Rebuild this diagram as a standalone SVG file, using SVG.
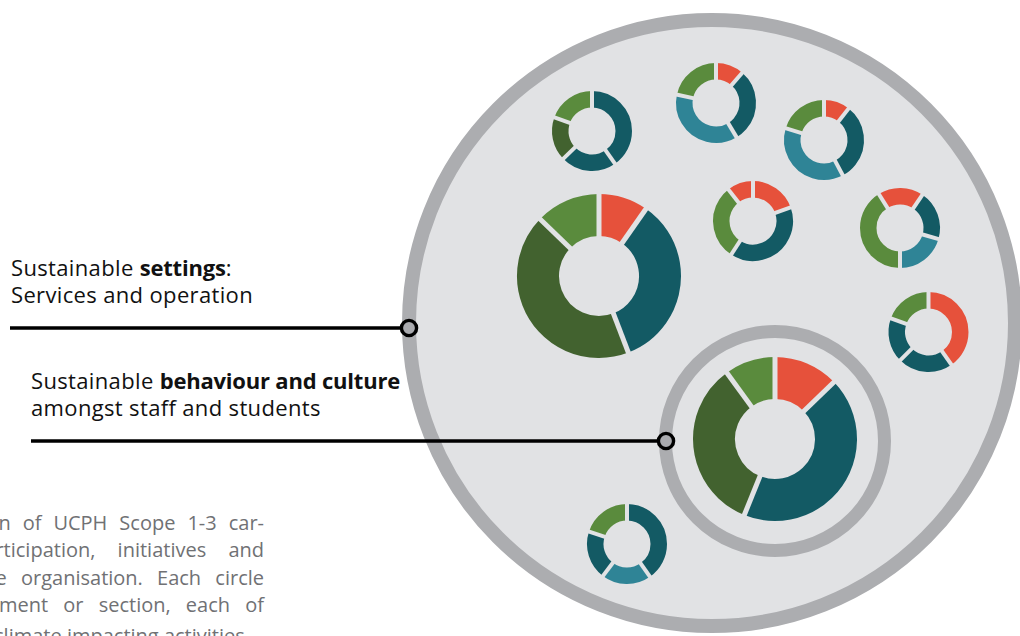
<svg xmlns="http://www.w3.org/2000/svg" width="1020" height="636" viewBox="0 0 1020 636">
<style>
.seg{fill:none}
.sm{stroke-width:16.5}
.bg{stroke-width:42}
.red{stroke:#e6513b}
.dt{stroke:#135a64}
.lt{stroke:#2f8496}
.g1{stroke:#5a8b3d}
.g2{stroke:#42622f}
.gap{stroke:#e1e2e4;stroke-width:4}
.gapb{stroke:#e1e2e4;stroke-width:5}
.lbl{font-family:"Open Sans","Noto Sans","Liberation Sans",sans-serif;font-size:22px;fill:#111;letter-spacing:0.35px}
.lbl .b{font-weight:bold;letter-spacing:-0.2px}
.para{font-family:"Open Sans","Noto Sans","Liberation Sans",sans-serif;font-size:20px;fill:#707174;text-anchor:end}
.conn{stroke:#000;stroke-width:3.6;fill:none}
.dot{fill:#a9aaae;stroke:#000;stroke-width:3.4}
</style>
<rect width="1020" height="636" fill="#ffffff"/>

<g id="outer-circle">
<circle cx="712" cy="323" r="303" fill="#e1e2e4" stroke="#acadb0" stroke-width="14"/>
</g>

<g id="inner-circle">
<circle cx="775" cy="441" r="109.5" fill="#e1e2e4" stroke="#acadb0" stroke-width="13"/>
</g>

<g id="donut-a" transform="translate(592,131)">
<circle class="seg sm dt" r="31.75" pathLength="360" stroke-dasharray="145 360" transform="rotate(-90)"/>
<circle class="seg sm dt" r="31.75" pathLength="360" stroke-dasharray="81 360" transform="rotate(55)"/>
<circle class="seg sm g2" r="31.75" pathLength="360" stroke-dasharray="64 360" transform="rotate(136)"/>
<circle class="seg sm g1" r="31.75" pathLength="360" stroke-dasharray="70 360" transform="rotate(200)"/>
<line class="gap" x1="0" y1="-20" x2="0" y2="-43"/>
<line class="gap" x1="0" y1="-20" x2="0" y2="-43" transform="rotate(145)"/>
<line class="gap" x1="0" y1="-20" x2="0" y2="-43" transform="rotate(226)"/>
<line class="gap" x1="0" y1="-20" x2="0" y2="-43" transform="rotate(290)"/>
</g>

<g id="donut-b" transform="translate(716,103)">
<circle class="seg sm red" r="31.75" pathLength="360" stroke-dasharray="41 360" transform="rotate(-90)"/>
<circle class="seg sm dt" r="31.75" pathLength="360" stroke-dasharray="108 360" transform="rotate(-49)"/>
<circle class="seg sm lt" r="31.75" pathLength="360" stroke-dasharray="133 360" transform="rotate(59)"/>
<circle class="seg sm g1" r="31.75" pathLength="360" stroke-dasharray="78 360" transform="rotate(192)"/>
<line class="gap" x1="0" y1="-20" x2="0" y2="-43"/>
<line class="gap" x1="0" y1="-20" x2="0" y2="-43" transform="rotate(41)"/>
<line class="gap" x1="0" y1="-20" x2="0" y2="-43" transform="rotate(149)"/>
<line class="gap" x1="0" y1="-20" x2="0" y2="-43" transform="rotate(282)"/>
</g>

<g id="donut-c" transform="translate(824,140)">
<circle class="seg sm red" r="31.75" pathLength="360" stroke-dasharray="38 360" transform="rotate(-90)"/>
<circle class="seg sm dt" r="31.75" pathLength="360" stroke-dasharray="114 360" transform="rotate(-52)"/>
<circle class="seg sm lt" r="31.75" pathLength="360" stroke-dasharray="135 360" transform="rotate(62)"/>
<circle class="seg sm g1" r="31.75" pathLength="360" stroke-dasharray="73 360" transform="rotate(197)"/>
<line class="gap" x1="0" y1="-20" x2="0" y2="-43"/>
<line class="gap" x1="0" y1="-20" x2="0" y2="-43" transform="rotate(38)"/>
<line class="gap" x1="0" y1="-20" x2="0" y2="-43" transform="rotate(152)"/>
<line class="gap" x1="0" y1="-20" x2="0" y2="-43" transform="rotate(287)"/>
</g>

<g id="donut-d" transform="translate(753,221)">
<circle class="seg sm red" r="31.75" pathLength="360" stroke-dasharray="70 360" transform="rotate(-90)"/>
<circle class="seg sm dt" r="31.75" pathLength="360" stroke-dasharray="143 360" transform="rotate(-20)"/>
<circle class="seg sm g1" r="31.75" pathLength="360" stroke-dasharray="109 360" transform="rotate(123)"/>
<circle class="seg sm red" r="31.75" pathLength="360" stroke-dasharray="38 360" transform="rotate(232)"/>
<line class="gap" x1="0" y1="-20" x2="0" y2="-43"/>
<line class="gap" x1="0" y1="-20" x2="0" y2="-43" transform="rotate(70)"/>
<line class="gap" x1="0" y1="-20" x2="0" y2="-43" transform="rotate(213)"/>
<line class="gap" x1="0" y1="-20" x2="0" y2="-43" transform="rotate(322)"/>
</g>

<g id="donut-e" transform="translate(900,228)">
<circle class="seg sm red" r="31.75" pathLength="360" stroke-dasharray="66 360" transform="rotate(238)"/>
<circle class="seg sm dt" r="31.75" pathLength="360" stroke-dasharray="72 360" transform="rotate(-56)"/>
<circle class="seg sm lt" r="31.75" pathLength="360" stroke-dasharray="74 360" transform="rotate(16)"/>
<circle class="seg sm g1" r="31.75" pathLength="360" stroke-dasharray="148 360" transform="rotate(90)"/>
<line class="gap" x1="0" y1="-20" x2="0" y2="-43" transform="rotate(328)"/>
<line class="gap" x1="0" y1="-20" x2="0" y2="-43" transform="rotate(34)"/>
<line class="gap" x1="0" y1="-20" x2="0" y2="-43" transform="rotate(106)"/>
<line class="gap" x1="0" y1="-20" x2="0" y2="-43" transform="rotate(180)"/>
</g>

<g id="donut-f" transform="translate(928.5,332)">
<circle class="seg sm red" r="31.75" pathLength="360" stroke-dasharray="145 360" transform="rotate(-90)"/>
<circle class="seg sm dt" r="31.75" pathLength="360" stroke-dasharray="80 360" transform="rotate(55)"/>
<circle class="seg sm dt" r="31.75" pathLength="360" stroke-dasharray="65 360" transform="rotate(135)"/>
<circle class="seg sm g1" r="31.75" pathLength="360" stroke-dasharray="70 360" transform="rotate(200)"/>
<line class="gap" x1="0" y1="-20" x2="0" y2="-43"/>
<line class="gap" x1="0" y1="-20" x2="0" y2="-43" transform="rotate(145)"/>
<line class="gap" x1="0" y1="-20" x2="0" y2="-43" transform="rotate(225)"/>
<line class="gap" x1="0" y1="-20" x2="0" y2="-43" transform="rotate(290)"/>
</g>

<g id="donut-g" transform="translate(627,544)">
<circle class="seg sm dt" r="31.75" pathLength="360" stroke-dasharray="145 360" transform="rotate(-90)"/>
<circle class="seg sm lt" r="31.75" pathLength="360" stroke-dasharray="72 360" transform="rotate(55)"/>
<circle class="seg sm dt" r="31.75" pathLength="360" stroke-dasharray="71 360" transform="rotate(127)"/>
<circle class="seg sm g1" r="31.75" pathLength="360" stroke-dasharray="72 360" transform="rotate(198)"/>
<line class="gap" x1="0" y1="-20" x2="0" y2="-43"/>
<line class="gap" x1="0" y1="-20" x2="0" y2="-43" transform="rotate(145)"/>
<line class="gap" x1="0" y1="-20" x2="0" y2="-43" transform="rotate(217)"/>
<line class="gap" x1="0" y1="-20" x2="0" y2="-43" transform="rotate(288)"/>
</g>

<g id="donut-h" transform="translate(599,276)">
<circle class="seg bg red" r="61" pathLength="360" stroke-dasharray="35 360" transform="rotate(-90)"/>
<circle class="seg bg dt" r="61" pathLength="360" stroke-dasharray="124 360" transform="rotate(-55)"/>
<circle class="seg bg g2" r="61" pathLength="360" stroke-dasharray="155 360" transform="rotate(69)"/>
<circle class="seg bg g1" r="61" pathLength="360" stroke-dasharray="46 360" transform="rotate(224)"/>
<line class="gapb" x1="0" y1="-36" x2="0" y2="-86"/>
<line class="gapb" x1="0" y1="-36" x2="0" y2="-86" transform="rotate(35)"/>
<line class="gapb" x1="0" y1="-36" x2="0" y2="-86" transform="rotate(159)"/>
<line class="gapb" x1="0" y1="-36" x2="0" y2="-86" transform="rotate(314)"/>
</g>

<g id="donut-i" transform="translate(775,439)">
<circle class="seg bg red" r="61" pathLength="360" stroke-dasharray="46 360" transform="rotate(-90)"/>
<circle class="seg bg dt" r="61" pathLength="360" stroke-dasharray="156 360" transform="rotate(-44)"/>
<circle class="seg bg g2" r="61" pathLength="360" stroke-dasharray="122 360" transform="rotate(112)"/>
<circle class="seg bg g1" r="61" pathLength="360" stroke-dasharray="36 360" transform="rotate(234)"/>
<line class="gapb" x1="0" y1="-36" x2="0" y2="-86"/>
<line class="gapb" x1="0" y1="-36" x2="0" y2="-86" transform="rotate(46)"/>
<line class="gapb" x1="0" y1="-36" x2="0" y2="-86" transform="rotate(202)"/>
<line class="gapb" x1="0" y1="-36" x2="0" y2="-86" transform="rotate(324)"/>
</g>

<g id="connectors">
<line class="conn" x1="10" y1="328" x2="402" y2="328"/>
<circle class="dot" cx="409" cy="328" r="7.6"/>
<line class="conn" x1="31" y1="441" x2="659" y2="441"/>
<circle class="dot" cx="666" cy="441" r="7.6"/>
</g>

<g id="label-settings">
<text class="lbl" x="11" y="276">Sustainable <tspan class="b">settings</tspan>:</text>
<text class="lbl" x="11" y="303">Services and operation</text>
</g>

<g id="label-behaviour">
<text class="lbl" x="31" y="389">Sustainable <tspan class="b">behaviour and culture</tspan></text>
<text class="lbl" x="31" y="416">amongst staff and students</text>
</g>

<g id="caption">
<text class="para" x="264" y="530" word-spacing="6.8">n of UCPH Scope 1-3 car-</text>
<text class="para" x="264" y="557" word-spacing="17">rticipation, initiatives and</text>
<text class="para" x="264" y="584.5" word-spacing="9">e organisation. Each circle</text>
<text class="para" x="264" y="612" word-spacing="10">ment or section, each of</text>
<text class="para" x="250" y="643">climate impacting activities.</text>
</g>
</svg>
